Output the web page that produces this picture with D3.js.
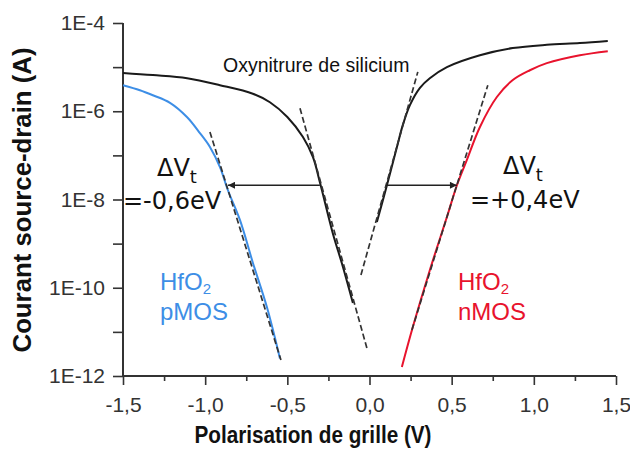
<!DOCTYPE html>
<html><head><meta charset="utf-8">
<script src="https://cdn.jsdelivr.net/npm/d3@7"></script>
<style>body{margin:0;background:#fff}svg{display:block}</style>
</head><body><svg id="c" width="630" height="449"></svg>
<script>
// ---- data ----
const xMajorTicks = [-1.5, -1.0, -0.5, 0, 0.5, 1.0, 1.5];
const xMinorTicks = [-1.25, -0.75, -0.25, 0.25, 0.75, 1.25];
const yMajorTicks = [1e-4, 1e-6, 1e-8, 1e-10, 1e-12];
const yMajorLabels = ["1E-4", "1E-6", "1E-8", "1E-10", "1E-12"];
const yMinorTicks = [1e-5, 1e-7, 1e-9, 1e-11];

// Oxynitrure de silicium (black), left branch
const oxyLeftV = [-1.5, -1.318, -1.11, -0.91, -0.71, -0.606, -0.50, -0.405, -0.344, -0.30, -0.223, -0.162, -0.101];
const oxyLeftI = [7.4e-6, 6.6e-6, 5.6e-6, 3.9e-6, 2.5e-6, 1.6e-6, 7.4e-7, 2.6e-7, 9.1e-8, 2.3e-8, 1.7e-9, 3.0e-10, 4.5e-11];
// Oxynitrure de silicium (black), right branch
const oxyRightV = [0.045, 0.106, 0.167, 0.203, 0.246, 0.307, 0.367, 0.471, 0.672, 0.872, 1.079, 1.28, 1.45];
const oxyRightI = [3.1e-9, 2.1e-8, 1.55e-7, 4.9e-7, 1.38e-6, 3.4e-6, 5.6e-6, 1.0e-5, 1.86e-5, 2.7e-5, 3.2e-5, 3.5e-5, 3.9e-5];
// HfO2 pMOS (blue)
const pmosV = [-1.5, -1.397, -1.318, -1.214, -1.111, -1.032, -0.971, -0.91, -0.861, -0.788, -0.709, -0.624, -0.545];
const pmosI = [3.9e-6, 3.0e-6, 2.3e-6, 1.55e-6, 7.4e-7, 3.2e-7, 1.55e-7, 5.4e-8, 1.6e-8, 3.4e-9, 3.6e-10, 3.6e-11, 2.5e-12];
// HfO2 nMOS (red)
const nmosV = [0.197, 0.264, 0.367, 0.471, 0.532, 0.592, 0.672, 0.775, 0.872, 0.976, 1.079, 1.28, 1.45];
const nmosI = [1.6e-12, 1.3e-11, 2.5e-10, 4.0e-9, 2.1e-8, 7.8e-8, 4.4e-7, 2.1e-6, 5.1e-6, 8.5e-6, 1.23e-5, 1.86e-5, 2.3e-5];
// subthreshold-slope tangents (dashed)
const tangentPmosV = [-0.971, -0.539];
const tangentPmosI = [3.4e-7, 2.3e-12];
const tangentOxyLeftV = [-0.423, -0.016];
const tangentOxyLeftI = [1.17e-6, 4.3e-12];
const tangentOxyRightV = [-0.052, 0.294];
const tangentOxyRightI = [1.95e-10, 7.8e-6];
const tangentNmosV = [0.258, 0.72];
const tangentNmosI = [1.1e-11, 3.9e-6];
// threshold shift arrows
const arrowLevelI = 2.1e-8;
const arrowPmosV = [-0.302, -0.861];
const arrowNmosV = [0.10, 0.532];

// ---- chart ----
const W = 630, H = 449;
const margin = {left: 123, right: 14, top: 23, bottom: 73};
const svg = d3.select("#c");
const x = d3.scaleLinear().domain([-1.5, 1.5]).range([margin.left, W - margin.right]);
const y = d3.scaleLog().domain([1e-12, 1e-4]).range([H - margin.bottom, margin.top]);

const axisColor = "#333";
const tickFont = "'Liberation Sans', Arial, sans-serif";

// x axis
const gx = svg.append("g").attr("transform", `translate(0,${H - margin.bottom})`);
gx.call(d3.axisBottom(x).tickValues(xMajorTicks).tickSize(9).tickPadding(12)
  .tickFormat(d => d.toFixed(1).replace(".", ",")));
gx.append("g").call(d3.axisBottom(x).tickValues(xMinorTicks).tickSize(5).tickFormat(""))
  .select(".domain").remove();
gx.selectAll(".domain").attr("stroke", axisColor).attr("stroke-width", 2)
  .attr("d", `M${x(-1.5)},0H${x(1.5)}`);
gx.selectAll(".tick line").attr("stroke", axisColor).attr("stroke-width", 1.6);
gx.selectAll(".tick text").attr("fill", "#333").style("font-family", tickFont).style("font-size", "21px");

// y axis
const gy = svg.append("g").attr("transform", `translate(${margin.left},0)`);
gy.call(d3.axisLeft(y).tickValues(yMajorTicks).tickSize(10).tickPadding(8)
  .tickFormat(d => yMajorLabels[yMajorTicks.indexOf(d)]));
gy.append("g").call(d3.axisLeft(y).tickValues(yMinorTicks).tickSize(10).tickFormat(""))
  .select(".domain").remove();
gy.selectAll(".domain").attr("stroke", axisColor).attr("stroke-width", 2)
  .attr("d", `M0,${y(1e-4)}V${y(1e-12)}`);
gy.selectAll(".tick line").attr("stroke", axisColor).attr("stroke-width", 1.6);
gy.selectAll(".tick text").attr("fill", "#333").style("font-family", tickFont).style("font-size", "21px");

// axis titles
svg.append("text").attr("x", 313).attr("y", 443).attr("text-anchor", "middle")
  .attr("textLength", 237).attr("lengthAdjust", "spacingAndGlyphs")
  .style("font-family", tickFont).style("font-weight", "bold").style("font-size", "23px").attr("fill", "#111")
  .text("Polarisation de grille (V)");
svg.append("text").attr("transform", "translate(31,200) rotate(-90)").attr("text-anchor", "middle")
  .attr("textLength", 305).attr("lengthAdjust", "spacingAndGlyphs")
  .style("font-family", tickFont).style("font-weight", "bold").style("font-size", "25px").attr("fill", "#111")
  .text("Courant source-drain (A)");

// lines
const line = d3.line().x(d => x(d[0])).y(d => y(d[1])).curve(d3.curveCatmullRom.alpha(0.5));
const zip = (a, b) => a.map((v, i) => [v, b[i]]);

const black = "#1a1a1a", blue = "#3d8ee6", red = "#e8132d";

function drawCurve(V, I, color) {
  svg.append("path").datum(zip(V, I)).attr("d", line).attr("fill", "none")
    .attr("stroke", color).attr("stroke-width", 2);
}
drawCurve(oxyLeftV, oxyLeftI, black);
drawCurve(oxyRightV, oxyRightI, black);
drawCurve(pmosV, pmosI, blue);
drawCurve(nmosV, nmosI, red);

const straight = d3.line().x(d => x(d[0])).y(d => y(d[1]));
function drawTangent(V, I) {
  svg.append("path").datum(zip(V, I)).attr("d", straight).attr("fill", "none")
    .attr("stroke", "#333").attr("stroke-width", 1.7).attr("stroke-dasharray", "6,3");
}
drawTangent(tangentPmosV, tangentPmosI);
drawTangent(tangentOxyLeftV, tangentOxyLeftI);
drawTangent(tangentOxyRightV, tangentOxyRightI);
drawTangent(tangentNmosV, tangentNmosI);

// arrows
svg.append("defs").append("marker").attr("id", "ah").attr("viewBox", "0 0 10 10")
  .attr("refX", 10).attr("refY", 5).attr("markerWidth", 8).attr("markerHeight", 7)
  .attr("markerUnits", "userSpaceOnUse").attr("orient", "auto")
  .append("path").attr("d", "M0,0L10,5L0,10z").attr("fill", "#222");
function drawArrow(V) {
  svg.append("line").attr("x1", x(V[0])).attr("x2", x(V[1]))
    .attr("y1", y(arrowLevelI)).attr("y2", y(arrowLevelI))
    .attr("stroke", "#222").attr("stroke-width", 1.5).attr("marker-end", "url(#ah)");
}
drawArrow(arrowPmosV);
drawArrow(arrowNmosV);

// annotations
svg.append("text").attr("x", 223).attr("y", 72).style("font-family", tickFont).style("font-size", "19.5px")
  .attr("fill", "#111").text("Oxynitrure de silicium");

const dvFont = "'DejaVu Sans', Verdana, sans-serif";
function deltaV(xPos, yPos) {
  const t = svg.append("text").attr("x", xPos).attr("y", yPos).style("font-family", dvFont)
    .style("font-size", "24px").attr("fill", "#111");
  t.append("tspan").text("\u0394V");
  t.append("tspan").attr("dy", 7).style("font-size", "18px").text("t");
}
deltaV(157, 176);
deltaV(503, 174);
svg.append("text").attr("x", 123).attr("y", 209).style("font-family", dvFont).style("font-size", "24px")
  .attr("fill", "#111").text("=-0,6eV");
svg.append("text").attr("x", 470).attr("y", 208).style("font-family", dvFont).style("font-size", "24px")
  .attr("fill", "#111").text("=+0,4eV");

function hfo(xPos, color, kind) {
  const t = svg.append("text").attr("x", xPos).attr("y", 290).style("font-family", tickFont)
    .style("font-size", "24px").attr("fill", color);
  t.append("tspan").text("HfO");
  t.append("tspan").attr("dy", 4).style("font-size", "15px").text("2");
  svg.append("text").attr("x", xPos).attr("y", 320).style("font-family", tickFont)
    .style("font-size", "24px").attr("fill", color).text(kind);
}
hfo(160, blue, "pMOS");
hfo(458, red, "nMOS");
</script>
</body></html>
